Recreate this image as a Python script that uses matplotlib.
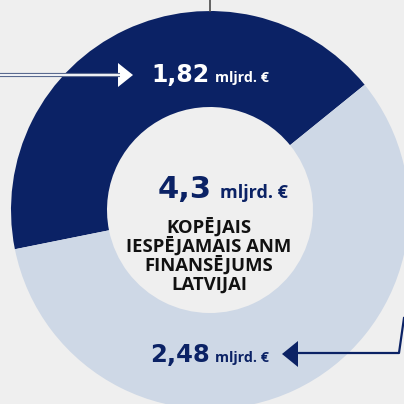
import matplotlib.pyplot as plt
from matplotlib.patches import Polygon

# ANM finansējums, mljrd. €
labels = ['1,82', '2,48']
values = [1.82, 2.48]
total_label = '4,3'
unit = 'mljrd. €'
caption = ['KOPĒJAIS', 'IESPĒJAMAIS ANM', 'FINANSĒJUMS', 'LATVIJAI']

navy = '#0b2265'
light = '#ced8e6'
bg = '#efefef'

W = H = 404
fig = plt.figure(figsize=(4.04, 4.04), dpi=100, facecolor=bg)
ax = fig.add_axes([0, 0, 1, 1])
ax.set_facecolor(bg)

def Y(y):
    # pixel rows measured from the top
    return H - y

cx, cy, r_out, r_in = 210, Y(210), 199, 103
ax.pie(values, colors=[navy, light], startangle=39, counterclock=True,
       center=(cx, cy), radius=r_out,
       wedgeprops=dict(width=r_out - r_in, linewidth=0))
ax.set_xlim(0, W)
ax.set_ylim(0, H)
ax.set_aspect('equal')
ax.axis('off')

# leader line at the top
ax.plot([210, 210], [Y(0), Y(11)], color='#4a4a4a', lw=1.2)

# arrow into the navy segment
ax.plot([0, 120], [Y(75), Y(75)], color='#5a6a90', lw=3, solid_capstyle='butt')
ax.plot([0, 120], [Y(75), Y(75)], color='white', lw=1.3, solid_capstyle='butt')
ax.add_patch(Polygon([(118, Y(63)), (118, Y(87)), (133, Y(75))], closed=True,
                     color='white', lw=0))

# arrow into the light segment
ax.plot([404, 399, 296], [Y(318), Y(353), Y(353)], color=navy, lw=1.6)
ax.add_patch(Polygon([(298, Y(341)), (298, Y(367)), (282, Y(354))], closed=True,
                     color=navy, lw=0))

num_font = dict(family='DejaVu Sans', weight='bold')
unit_font = dict(family='Open Sans', weight='bold')

# segment values
ax.text(210, Y(82), labels[0], color='white', fontsize=17, ha='right', va='baseline', **num_font)
ax.text(215, Y(82), unit, color='white', fontsize=10.3, ha='left', va='baseline', **unit_font)
ax.text(210, Y(362), labels[1], color=navy, fontsize=17.5, ha='right', va='baseline', **num_font)
ax.text(215, Y(362), unit, color=navy, fontsize=10.3, ha='left', va='baseline', **unit_font)

# total in the centre
ax.text(212, Y(198), total_label, color=navy, fontsize=22, ha='right', va='baseline', **num_font)
ax.text(220, Y(198), unit, color=navy, fontsize=13, ha='left', va='baseline', **unit_font)

for i, line in enumerate(caption):
    ax.text(209, Y(233 + i * 19), line, color='#111111', fontsize=13.3,
            ha='center', va='baseline', family='Open Sans', weight='bold')

fig.savefig('out.png', dpi=100, facecolor=bg)
